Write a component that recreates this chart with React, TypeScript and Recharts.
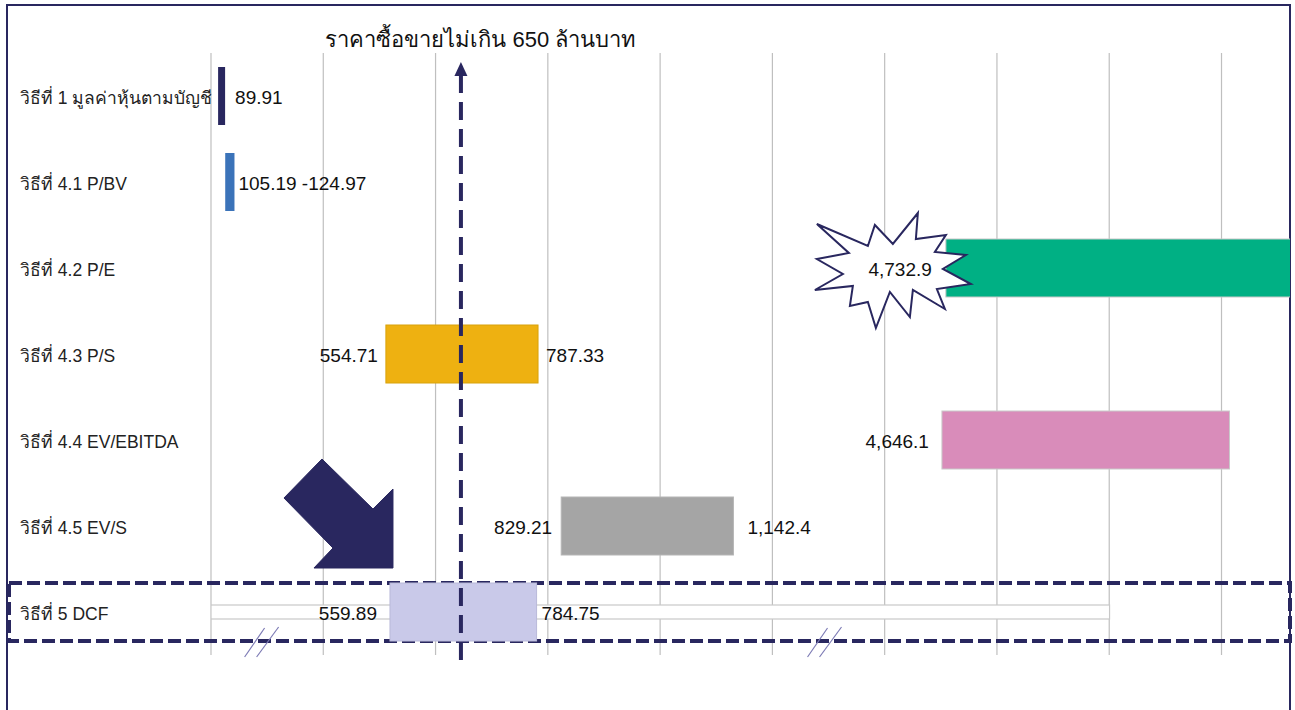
import React from 'react';
import {
  BarChart,
  Bar,
  XAxis,
  YAxis,
  CartesianGrid,
  ReferenceLine,
  ReferenceArea,
  ReferenceDot,
} from 'recharts';

// ---------------- data ----------------
const METHODS = [
  'วิธีที่ 1 มูลค่าหุ้นตามบัญชี',
  'วิธีที่ 4.1 P/BV',
  'วิธีที่ 4.2 P/E',
  'วิธีที่ 4.3 P/S',
  'วิธีที่ 4.4 EV/EBITDA',
  'วิธีที่ 4.5 EV/S',
  'วิธีที่ 5 DCF',
];
const LOW_VALUES = [89.91, 105.19, 4732.9, 554.71, 4646.1, 829.21, 559.89];
const HIGH_VALUES = [89.91, 124.97, 13000, 787.33, 11000, 1142.4, 784.75];
const START_LABELS: (string | null)[] = [null, null, '4,732.9', '554.71', '4,646.1', '829.21', '559.89'];
const END_LABELS: (string | null)[] = ['89.91', '105.19 -124.97', null, '787.33', null, '1,142.4', '784.75'];
// thin background track shown on the DCF row
const TRACK_LOW: (number | null)[] = [null, null, null, null, null, null, 0];
const TRACK_HIGH: (number | null)[] = [null, null, null, null, null, null, 8350];

const PRICE_CAP = 650;
const PRICE_CAP_LABEL = 'ราคาซื้อขายไม่เกิน 650 ล้านบาท';
const HIGHLIGHT_METHOD = 'วิธีที่ 5 DCF';
const STAR_METHOD_INDEX = 2;
const ARROW_METHOD_INDEX = 6;

// broken (non-uniform) value axis: value knots and their place in gridline steps
const AXIS_KNOT_VALUES = [0, 100, 130, 500, 650, 800, 1150, 4600, 13000];
const AXIS_KNOT_STEPS = [0, 0.105, 0.23, 1.174, 2.226, 2.976, 4.69, 6.4915, 9.877];
const AXIS_BREAK_VALUES = [220, 2650];
const GRID_STEPS = [0, 1, 2, 3, 4, 5, 6, 7, 8, 9];
const AXIS_MAX_STEP = 9.61;

// ---------------- styles ----------------
const NAVY = '#29275f';
const BAR_COLORS = ['#29275f', '#3b73b9', '#00b084', '#eeb111', '#d98cba', '#a5a5a5', '#c9c9e9'];
const BAR_STROKES = ['none', 'none', '#c8c8c8', '#d8a20c', '#c9c9c9', '#b5b5b5', '#b9b9da'];
const END_LABEL_GAPS = [10, 4, 8, 8, 8, 14, 5];
const START_LABEL_GAPS = [11, 11, 14, 8, 13, 9, 13];
const FONT = "'Liberation Sans', Arial, 'Noto Sans', sans-serif";

function toAxis(v: number): number {
  const xs = AXIS_KNOT_VALUES;
  const ys = AXIS_KNOT_STEPS;
  if (v <= xs[0]) return ys[0];
  for (let i = 1; i < xs.length; i++) {
    if (v <= xs[i]) {
      const t = (v - xs[i - 1]) / (xs[i] - xs[i - 1]);
      return ys[i - 1] + t * (ys[i] - ys[i - 1]);
    }
  }
  return ys[ys.length - 1];
}

const rows = METHODS.map((method, i) => ({
  method,
  idx: i,
  low: LOW_VALUES[i],
  high: HIGH_VALUES[i],
  trackLow: TRACK_LOW[i],
  trackHigh: TRACK_HIGH[i],
}));

// starburst outline around the P/E label, relative to the bar's left-middle point
const STAR_POINTS = [
  [-129, -44], [-78, -22], [-71, -43], [-53, -24], [-28, -55], [-30, -29], [0, -33],
  [-11, -16], [20, -13], [-3, 1], [25, 16], [-9, 21], [-1, 41], [-33, 22], [-36, 49],
  [-56, 24], [-70, 60], [-78, 34], [-96, 38], [-93, 18], [-131, 22], [-103, 6],
  [-129, -9], [-97, -15],
];
// block arrow pointing at the DCF bar, relative to its top-left corner
const ARROW_POINTS = [
  [-68, -124], [-17, -74], [3, -94], [3, -15], [-76, -15], [-57, -35], [-106, -85],
];

function RangeBar(props: any) {
  const { x, y, width, height, payload } = props;
  if (!payload || x == null) return <g />;
  const i = payload.idx;
  let bx = x;
  let bw = width;
  if (bw < 7) {
    bx = x + bw / 2 - 3.5;
    bw = 7;
  }
  const cy = y + height / 2;
  const startLabel = START_LABELS[i];
  const endLabel = END_LABELS[i];
  return (
    <g>
      <rect
        x={bx}
        y={y}
        width={bw}
        height={height}
        fill={BAR_COLORS[i]}
        stroke={BAR_STROKES[i]}
        strokeWidth={1}
      />
      {i === STAR_METHOD_INDEX && (
        <polygon
          points={STAR_POINTS.map(([dx, dy]) => `${bx + dx},${cy + dy}`).join(' ')}
          fill="#ffffff"
          stroke={NAVY}
          strokeWidth={2}
          strokeLinejoin="miter"
        />
      )}
      {i === ARROW_METHOD_INDEX && (
        <polygon
          points={ARROW_POINTS.map(([dx, dy]) => `${bx + dx},${y + dy}`).join(' ')}
          fill={NAVY}
          stroke={NAVY}
          strokeWidth={1}
        />
      )}
      {startLabel && (
        <text
          x={bx - START_LABEL_GAPS[i]}
          y={cy + 1}
          textAnchor="end"
          dominantBaseline="central"
          fontFamily={FONT}
          fontSize={19}
          fill="#111"
        >
          {startLabel}
        </text>
      )}
      {endLabel && (
        <text
          x={bx + bw + END_LABEL_GAPS[i]}
          y={cy + 1}
          textAnchor="start"
          dominantBaseline="central"
          fontFamily={FONT}
          fontSize={19}
          fill="#111"
        >
          {endLabel}
        </text>
      )}
    </g>
  );
}

function TrackBar(props: any) {
  const { x, y, width, height, payload } = props;
  if (!payload || payload.trackLow == null || x == null) return <g />;
  return <rect x={x} y={y} width={width} height={height} fill="#ffffff" stroke="#c8c8c8" strokeWidth={1.2} />;
}

function CategoryTick(props: any) {
  const { y, payload } = props;
  return (
    <text x={20} y={y + 2} dominantBaseline="central" fontFamily={FONT} fontSize={17.5} fill="#222">
      {payload.value}
    </text>
  );
}

function PriceCapLine(props: any) {
  const { x1, y1, y2 } = props;
  const x = x1;
  const top = Math.min(y1, y2);
  const bottom = Math.max(y1, y2);
  return (
    <g>
      <line x1={x} y1={top + 22} x2={x} y2={bottom + 12} stroke={NAVY} strokeWidth={4} strokeDasharray="18 9" />
      <polygon points={`${x},${top + 9} ${x - 6.5},${top + 23} ${x + 6.5},${top + 23}`} fill={NAVY} />
      <text
        x={x + 20}
        y={top - 6}
        textAnchor="middle"
        fontFamily={FONT}
        fontSize={22}
        fill="#111"
      >
        {PRICE_CAP_LABEL}
      </text>
    </g>
  );
}

function HighlightBox(props: any) {
  const { x, y, width, height } = props;
  const cy = y + height / 2;
  const left = 9;
  return (
    <rect
      x={left}
      y={cy - 29}
      width={x + width - left}
      height={58}
      fill="none"
      stroke={NAVY}
      strokeWidth={4}
      strokeDasharray="13 5"
    />
  );
}

function BreakMark(props: any) {
  const { cx, cy } = props;
  return (
    <g stroke="#7d7bb5" strokeWidth={1.2}>
      <line x1={cx - 18} y1={cy + 45} x2={cx + 2} y2={cy + 16} />
      <line x1={cx - 6} y1={cy + 45} x2={cx + 16} y2={cy + 15} />
    </g>
  );
}

function gridXs(args: any): number[] {
  const axis = args && args.xAxis;
  if (axis && typeof axis.scale === 'function') {
    return GRID_STEPS.map((s) => axis.scale(s));
  }
  const off = args.offset;
  return GRID_STEPS.map((s) => off.left + (s / AXIS_MAX_STEP) * off.width);
}

export default function App() {
  return (
    <div
      style={{
        position: 'absolute',
        left: 0,
        top: 0,
        width: 1295,
        height: 710,
        background: '#ffffff',
        overflow: 'hidden',
      }}
    >
      <div
        style={{
          position: 'absolute',
          left: 6,
          top: 4,
          width: 1285,
          height: 760,
          border: `2px solid ${NAVY}`,
          boxSizing: 'border-box',
        }}
      />
      <div style={{ position: 'absolute', left: 0, top: 0 }}>
        <BarChart
          width={1295}
          height={710}
          layout="vertical"
          data={rows}
          margin={{ top: 53, right: 5, bottom: 55, left: 0 }}
        >
          <CartesianGrid
            horizontal={false}
            vertical
            stroke="#bfbfbf"
            strokeWidth={1.2}
            verticalCoordinatesGenerator={gridXs}
          />
          <XAxis
            type="number"
            domain={[0, AXIS_MAX_STEP]}
            ticks={GRID_STEPS}
            allowDataOverflow
            tick={false}
            tickLine={false}
            axisLine={false}
            height={0}
          />
          <YAxis
            type="category"
            dataKey="method"
            width={211}
            axisLine={false}
            tickLine={false}
            tick={<CategoryTick />}
            interval={0}
          />
          <YAxis yAxisId="track" type="category" dataKey="method" hide />
          <Bar
            yAxisId="track"
            dataKey={(d: any) => (d.trackLow == null ? [0, 0] : [toAxis(d.trackLow), toAxis(d.trackHigh)])}
            barSize={14}
            shape={<TrackBar />}
            isAnimationActive={false}
          />
          <Bar
            dataKey={(d: any) => [toAxis(d.low), toAxis(d.high)]}
            barSize={58}
            shape={<RangeBar />}
            isAnimationActive={false}
          />
          <ReferenceArea
            y1={HIGHLIGHT_METHOD}
            y2={HIGHLIGHT_METHOD}
            x1={0}
            x2={AXIS_MAX_STEP}
            ifOverflow="visible"
            shape={<HighlightBox />}
          />
          {AXIS_BREAK_VALUES.map((v) => (
            <ReferenceDot
              key={v}
              x={toAxis(v)}
              y={HIGHLIGHT_METHOD}
              r={0}
              ifOverflow="visible"
              shape={<BreakMark />}
            />
          ))}
          <ReferenceLine x={toAxis(PRICE_CAP)} ifOverflow="visible" shape={<PriceCapLine />} />
        </BarChart>
      </div>
    </div>
  );
}
